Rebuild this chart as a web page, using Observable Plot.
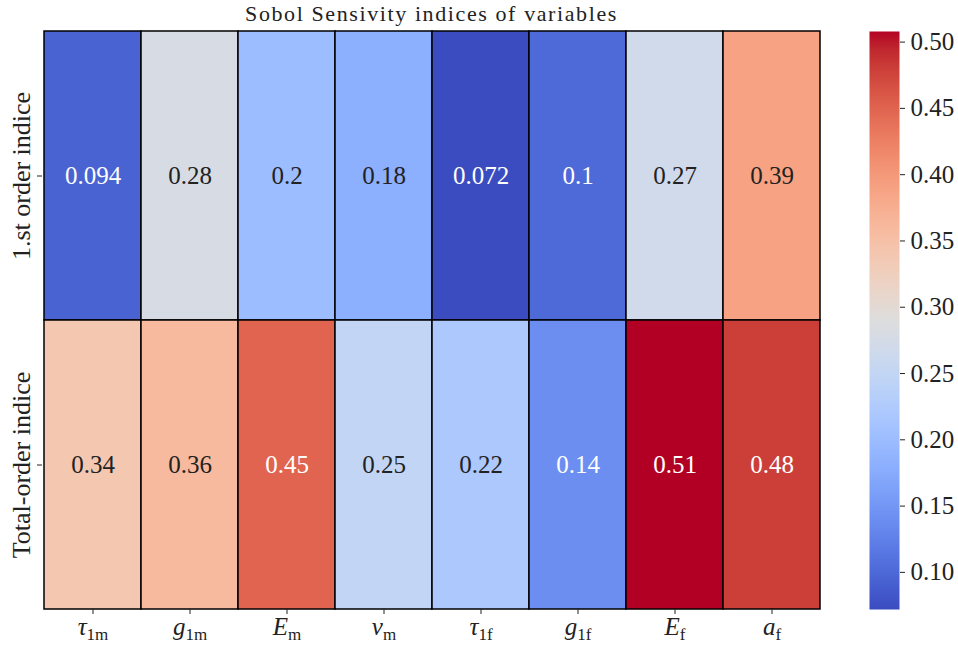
<!DOCTYPE html>
<html><head><meta charset="utf-8">
<script src="https://cdn.jsdelivr.net/npm/d3@7"></script>
<script src="https://cdn.jsdelivr.net/npm/@observablehq/plot@0.6"></script>
<style>
body{margin:0;background:#fff;}
#wrap{position:relative;width:958px;height:651px;font-family:"Liberation Serif",serif;overflow:hidden;}
#title{position:absolute;left:42px;width:779px;top:0;height:28px;line-height:28px;text-align:center;font-size:22px;letter-spacing:1.6px;color:#222;}
#main{position:absolute;left:0;top:28px;}
#cbar{position:absolute;left:840px;top:28px;}
#wrap svg text{font-family:"Liberation Serif",serif;}
</style></head><body>
<div id="wrap"><div id="title">Sobol Sensivity indices of variables</div><div id="main"></div><div id="cbar"></div></div>
<script>
const variables = ["tau1m","g1m","Em","vm","tau1f","g1f","Ef","af"];
const symbols = ["τ","g","E","v","τ","g","E","a"];
const subscripts = ["1m","1m","m","m","1f","1f","f","f"];
const rows = ["1.st order indice","Total-order indice"];
const firstOrder = [0.094,0.28,0.20,0.18,0.072,0.10,0.27,0.39];
const totalOrder = [0.34,0.36,0.45,0.25,0.22,0.14,0.51,0.48];
const colorTicks = [0.10,0.15,0.20,0.25,0.30,0.35,0.40,0.45,0.50];
const vmin = 0.072, vmax = 0.508;

// matplotlib "coolwarm" (Moreland) control colours
const coolwarmStops = [
[59,76,192],[68,90,204],[77,104,215],[87,117,225],[98,130,234],[108,142,241],[119,154,247],[130,165,251],
[141,176,254],[152,185,255],[163,194,255],[174,201,253],[184,208,249],[194,213,244],[204,217,238],[213,219,230],
[221,221,221],[229,216,209],[236,211,197],[241,204,185],[245,196,173],[247,187,160],[247,177,148],[247,166,135],
[244,154,123],[241,141,111],[236,127,99],[229,112,88],[222,96,77],[213,80,66],[203,62,56],[192,40,47],[180,4,38]];
const coolwarm = d3.piecewise(d3.interpolateRgb, coolwarmStops.map(c => `rgb(${c[0]},${c[1]},${c[2]})`));
const colorOf = v => coolwarm(Math.max(0, Math.min(1, (v - vmin) / (vmax - vmin))));
function luminance(col){
  const c = d3.rgb(col);
  const f = x => { x /= 255; return x <= 0.03928 ? x / 12.92 : Math.pow((x + 0.055) / 1.055, 2.4); };
  return 0.2126 * f(c.r) + 0.7152 * f(c.g) + 0.0722 * f(c.b);
}
const isDark = v => luminance(colorOf(v)) < 0.408;
const fmt = d3.format(".2~g");

const cells = rows.flatMap((r, i) => variables.map((v, j) => ({row: r, variable: v, value: (i === 0 ? firstOrder : totalOrder)[j]})));
const colorScale = {type: "linear", domain: [vmin, vmax], interpolate: coolwarm};
const font = "font-family: 'Liberation Serif', serif; font-size: 25px; color: #222; background: transparent; overflow: visible;";

const main = Plot.plot({
  width: 958, height: 623,
  marginTop: 3, marginBottom: 42, marginLeft: 42, marginRight: 137,
  style: font,
  x: {domain: variables, padding: 0, label: null},
  y: {domain: rows, padding: 0, label: null},
  color: colorScale,
  marks: [
    Plot.cell(cells, {x: "variable", y: "row", fill: "value", stroke: "black", strokeWidth: 1.5, inset: 0}),
    Plot.text(cells.filter(d => isDark(d.value)), {x: "variable", y: "row", text: d => fmt(d.value), fill: "white", fontSize: 25}),
    Plot.text(cells.filter(d => !isDark(d.value)), {x: "variable", y: "row", text: d => fmt(d.value), fill: "#222", fontSize: 25}),
    Plot.axisX({tickSize: 5, tickPadding: 3, fontSize: 25, label: null}),
    Plot.axisY({tickSize: 5, tickFormat: () => "", label: null}),
    Plot.text(rows, {y: d => d, text: d => d, frameAnchor: "left", textAnchor: "middle", dx: -21, rotate: -90, fontSize: 26, fill: "#222"})
  ]
});
document.getElementById("main").appendChild(main);

// math-style tick labels: italic symbol + roman subscript
const NS = "http://www.w3.org/2000/svg";
main.querySelectorAll('g[aria-label="x-axis tick label"] text').forEach(t => {
  const idx = variables.indexOf(t.textContent.trim());
  if (idx < 0) return;
  while (t.firstChild) t.removeChild(t.firstChild);
  const s = document.createElementNS(NS, "tspan");
  s.setAttribute("font-style", "italic");
  s.textContent = symbols[idx];
  const sub = document.createElementNS(NS, "tspan");
  sub.setAttribute("font-size", "17px");
  sub.setAttribute("dy", "5");
  sub.textContent = subscripts[idx];
  t.appendChild(s); t.appendChild(sub);
});

const cbar = Plot.plot({
  width: 118, height: 623,
  marginTop: 3, marginBottom: 42, marginLeft: 29, marginRight: 59,
  style: font,
  x: {domain: [0, 1], axis: null},
  y: {domain: [vmin, vmax], label: null},
  color: colorScale,
  marks: [
    Plot.raster({x1: 0, x2: 1, y1: vmin, y2: vmax, fill: (x, y) => y}),
    Plot.axisY(colorTicks, {anchor: "right", tickSize: 5, tickPadding: 6, tickFormat: d3.format(".2f"), fontSize: 25, label: null})
  ]
});
document.getElementById("cbar").appendChild(cbar);
</script>
</body></html>
